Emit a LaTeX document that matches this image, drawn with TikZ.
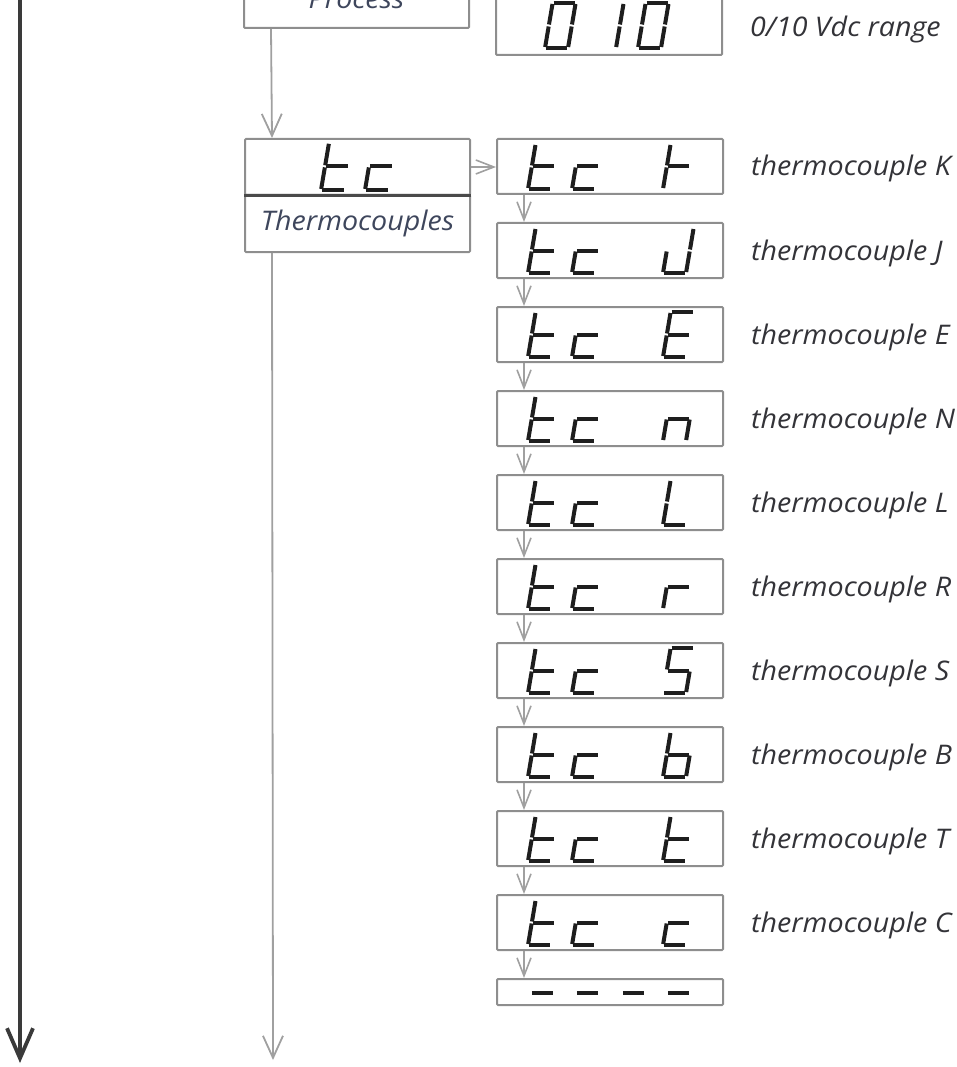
\documentclass[tikz,border=0pt]{standalone}
\usepackage{fontspec}
\usepackage{graphicx}
\setmainfont{Open Sans}
\usetikzlibrary{arrows.meta}
\definecolor{boxgray}{HTML}{8E8E8E}
\definecolor{arrgray}{HTML}{A0A0A0}
\definecolor{seggray}{HTML}{1E1E1E}
\definecolor{txtgray}{HTML}{333338}
\definecolor{bluetxt}{HTML}{3E465C}
\definecolor{darkline}{HTML}{4A4A4A}
\definecolor{bigline}{HTML}{3A3A3A}
\tikzset{
  segline/.style={draw=seggray, line width=4pt, line cap=butt},
  dispbox/.style={draw=boxgray, line width=2pt, rectangle, rounded corners=1pt, inner sep=0pt, minimum width=226pt, minimum height=55pt},
  procbox/.style={draw=boxgray, line width=2pt, rectangle, rounded corners=1pt, inner sep=0pt, minimum width=225pt},
  lbl/.style={text=txtgray, font=\itshape\fontsize{27}{30}\selectfont, inner sep=0pt},
  boxlbl/.style={text=bluetxt, font=\itshape\fontsize{27}{30}\selectfont},
  smallarr/.style={draw=arrgray, line width=1.6pt, -{Straight Barb[length=18pt,width=14pt]}},
  midarr/.style={draw=arrgray, line width=1.8pt, -{Straight Barb[length=22pt,width=20pt]}},
  bigarr/.style={draw=bigline, line width=3.8pt, -{Straight Barb[length=30pt,width=26pt]}},
  divider/.style={draw=darkline, line width=3pt}
}
\newcommand\wide[1]{\scalebox{1.06}[1]{#1}}
\newcommand\sga{\draw[segline] (1,-45) -- (22,-45);}
\newcommand\sgb{\draw[segline] (23,-44) -- (23,-23.5);}
\newcommand\sgc{\draw[segline] (23,-21.5) -- (23,-1);}
\newcommand\sgd{\draw[segline] (1,0) -- (22,0);}
\newcommand\sge{\draw[segline] (0,-1) -- (0,-21.5);}
\newcommand\sgf{\draw[segline] (0,-23.5) -- (0,-44);}
\newcommand\sgg{\draw[segline] (1,-22.5) -- (22,-22.5);}
\newcommand\glyph[4][]{\begin{scope}[shift={(#2,#3)},xslant=0.17,#1]\foreach \s in {#4}{\csname sg\s\endcsname}\end{scope}}
\newcommand\tcdisp[2]{\glyph{528}{#1}{f,e,g,d}\glyph{572}{#1}{g,e,d}\glyph{663}{#1}{#2}}
\begin{document}
\begin{tikzpicture}[x=1pt,y=-1pt]
\useasboundingbox (0,0) rectangle (957,1067);
\clip (0,0) rectangle (957,1067);
% top boxes (cut off by the picture edge)
\node[procbox, minimum height=76pt] (proc) at (356.5,-10) {};
\node[boxlbl, anchor=base, inner sep=0pt] (proclbl) at (356.5,9) {\wide{Process}};
\node[dispbox, minimum height=62pt] (d010) at (609,24) {};
\glyph{545}{48}{a,b,c,d,e,f}
\glyph{616}{48}{e,f}
\glyph{638}{48}{a,b,c,d,e,f}
\node[lbl, anchor=base west] (l010) at (750,37) {\wide{0/10 Vdc range}};
% tc box
\node[procbox, minimum height=56pt] (tctop) at (357.5,167) {};
\node[procbox, minimum height=57pt, boxlbl] (tcbot) at (357.5,223.5) {\wide{Thermocouples}};
\draw[divider] (tctop.south west) -- (tctop.south east);
\glyph[scale=1.05]{321}{190}{f,e,g,d}
\glyph[scale=1.05]{365}{190}{g,e,d}
% display boxes
\node[dispbox] (dk) at (610,166.5) {};
\node[dispbox] (dj) at (610,250.5) {};
\node[dispbox] (de) at (610,334.5) {};
\node[dispbox] (dn) at (610,418.5) {};
\node[dispbox] (dl) at (610,502.5) {};
\node[dispbox] (dr) at (610,586.5) {};
\node[dispbox] (ds) at (610,670.5) {};
\node[dispbox] (db) at (610,754.5) {};
\node[dispbox] (dt) at (610,838.5) {};
\node[dispbox] (dc) at (610,922.5) {};
\node[dispbox, minimum height=26pt] (ddash) at (610,992) {};
\tcdisp{189}{f,e,g}
\tcdisp{273}{b,c,d,e}
\tcdisp{357}{a,f,g,e,d}
\tcdisp{441}{e,g,c}
\tcdisp{525}{f,e,d}
\tcdisp{609}{e,g}
\tcdisp{693}{a,f,g,c,d}
\tcdisp{777}{f,e,g,c,d}
\tcdisp{861}{f,e,g,d}
\tcdisp{945}{g,e,d}
\glyph{527}{1015.5}{g}
\glyph{572}{1015.5}{g}
\glyph{618}{1015.5}{g}
\glyph{663}{1015.5}{g}
% labels
\node[lbl, anchor=base west] (lk) at (751,176) {\wide{thermocouple K}};
\node[lbl, anchor=base west] (lj) at (751,260) {\wide{thermocouple J}};
\node[lbl, anchor=base west] (le) at (751,344) {\wide{thermocouple E}};
\node[lbl, anchor=base west] (ln) at (751,428) {\wide{thermocouple N}};
\node[lbl, anchor=base west] (ll) at (751,512) {\wide{thermocouple L}};
\node[lbl, anchor=base west] (lr) at (751,596) {\wide{thermocouple R}};
\node[lbl, anchor=base west] (ls) at (751,680) {\wide{thermocouple S}};
\node[lbl, anchor=base west] (lb) at (751,764) {\wide{thermocouple B}};
\node[lbl, anchor=base west] (lt) at (751,848) {\wide{thermocouple T}};
\node[lbl, anchor=base west] (lc) at (751,932) {\wide{thermocouple C}};
% connectors
\draw[midarr] ([xshift=28pt]proc.south west) -- ([xshift=28pt]tctop.north west);
\draw[smallarr] (tctop.east) -- (tctop.east -| dk.west);
\foreach \a/\b in {dk/dj,dj/de,de/dn,dn/dl,dl/dr,dr/ds,ds/db,db/dt,dt/dc,dc/ddash}
  \draw[smallarr] ([xshift=28pt]\a.south west) -- ([xshift=28pt]\b.north west);
\coordinate (midend) at (273,1060);
\draw[midarr] ([xshift=28pt]tcbot.south west) -- (midend);
\coordinate (ltop) at (20,-5);
\coordinate (lend) at (20,1063);
\draw[bigarr] (ltop) -- (lend);
\end{tikzpicture}
\end{document}
